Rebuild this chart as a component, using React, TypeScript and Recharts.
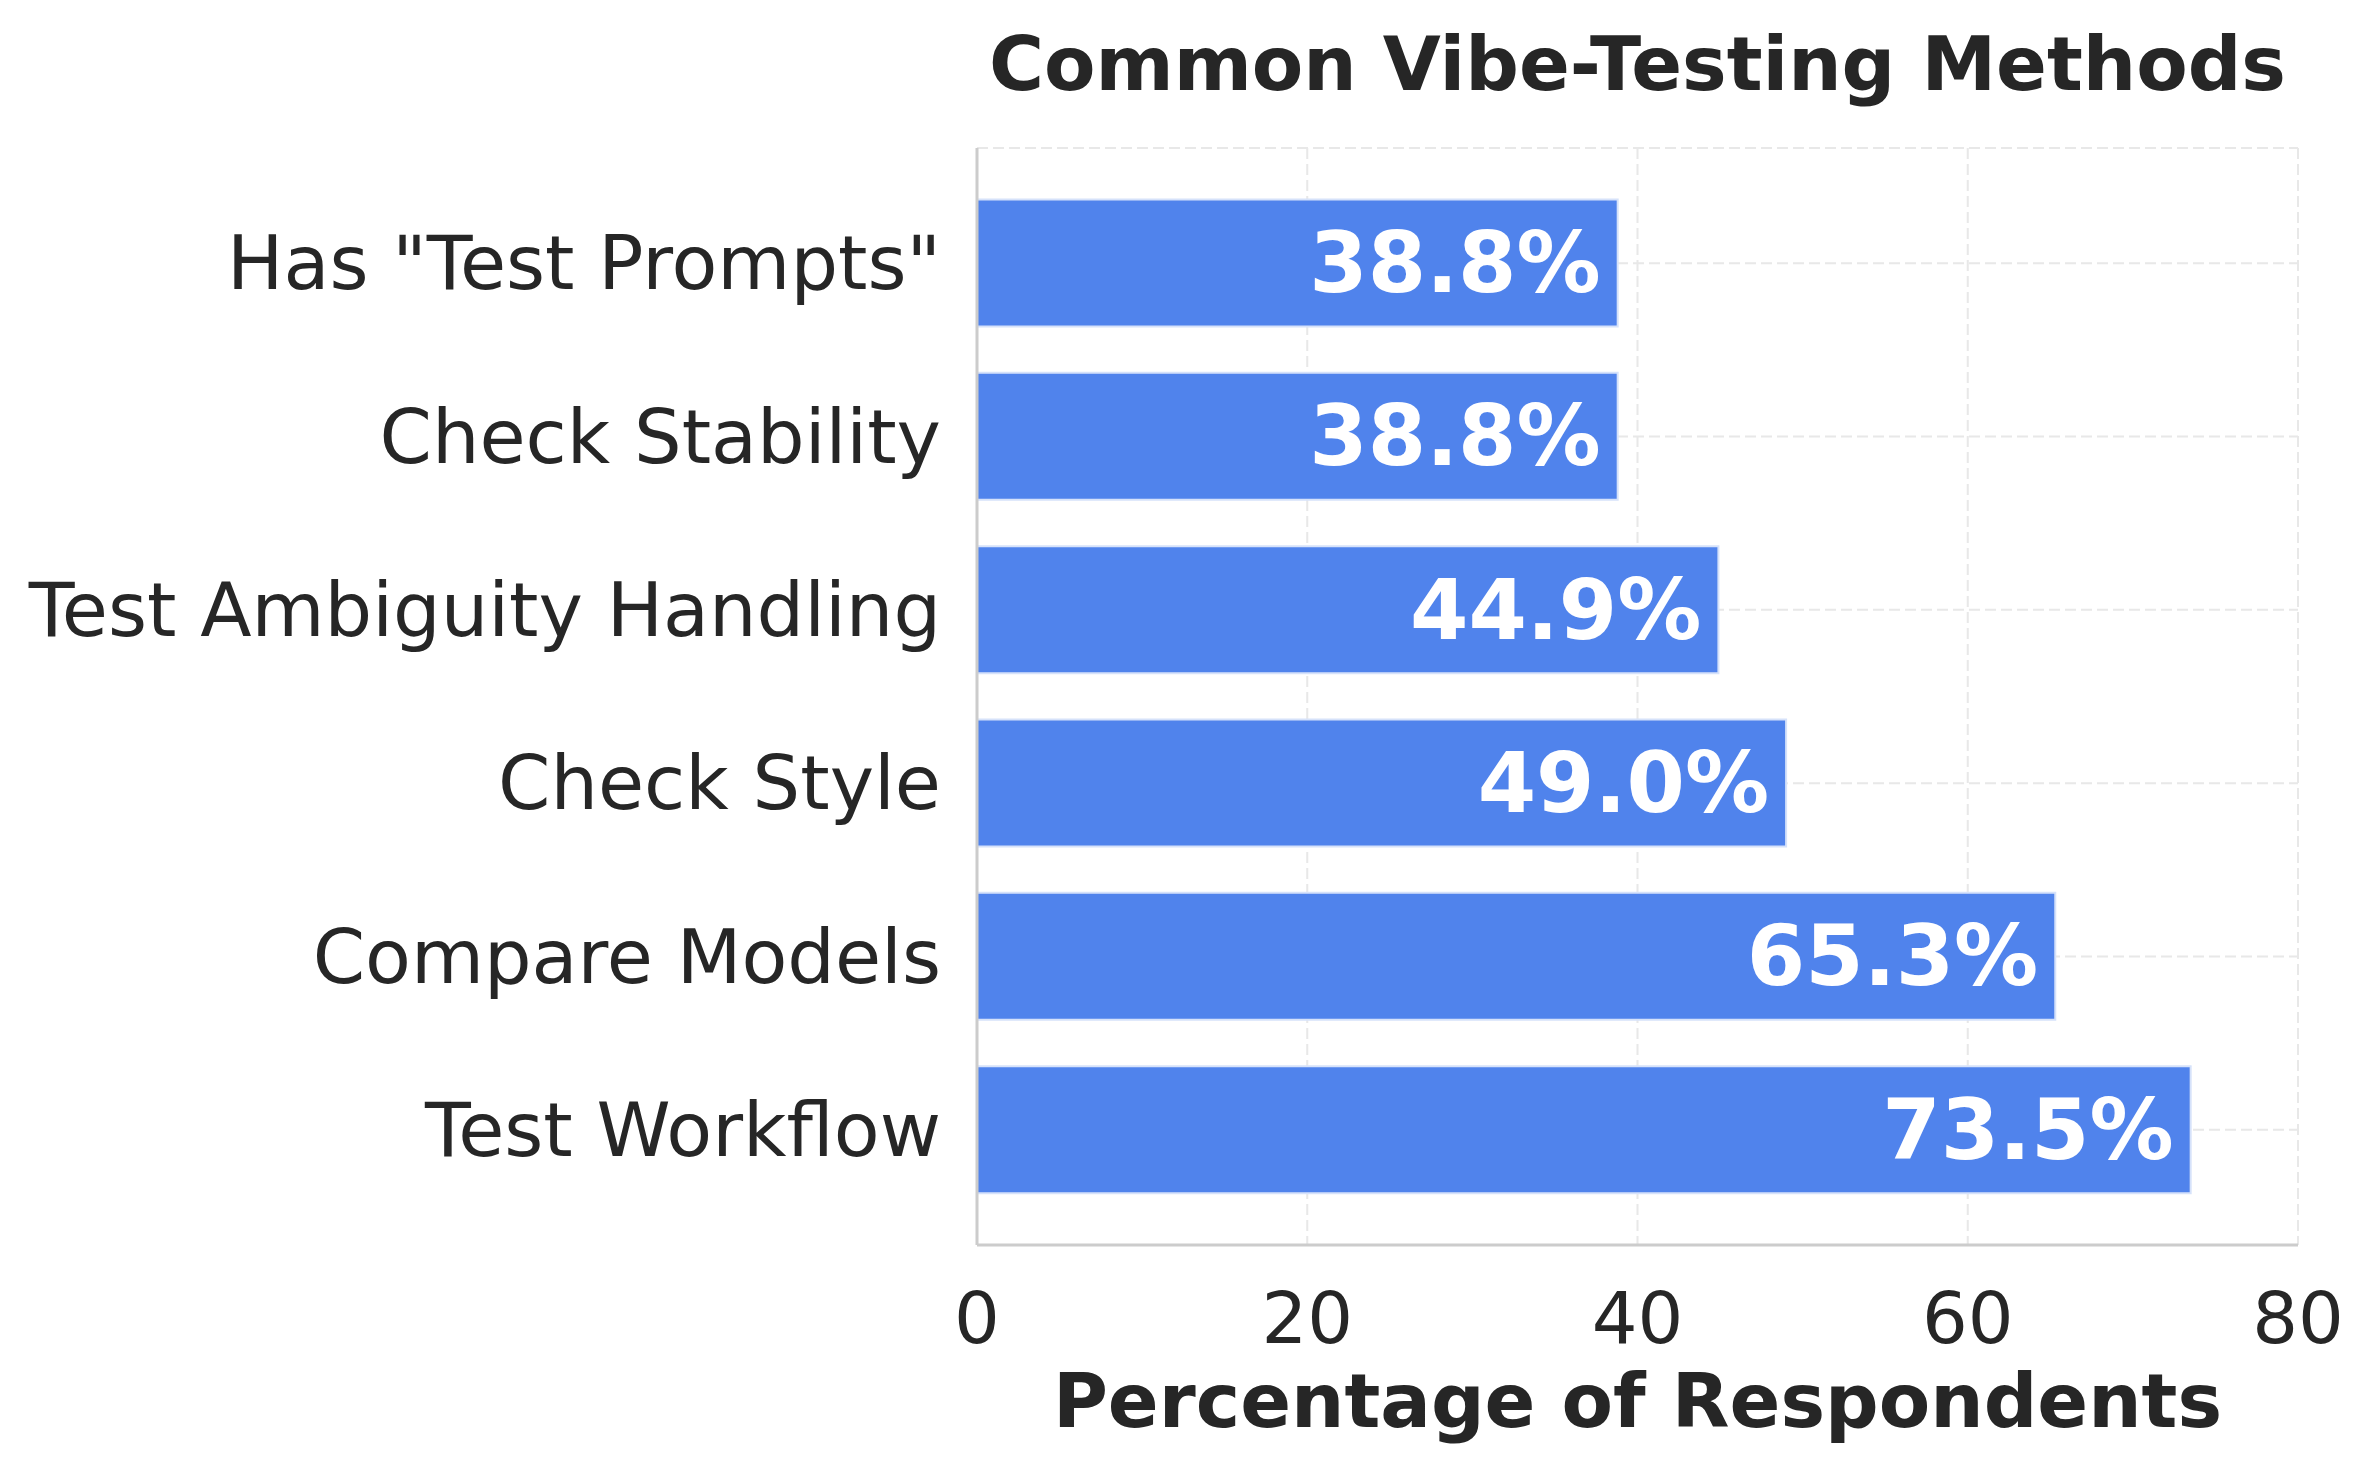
import React from "react";
import { BarChart, Bar, XAxis, YAxis, CartesianGrid, LabelList } from "recharts";

const categories = [
  'Has "Test Prompts"',
  "Check Stability",
  "Test Ambiguity Handling",
  "Check Style",
  "Compare Models",
  "Test Workflow",
];
const percentages = [38.8, 38.8, 44.9, 49.0, 65.3, 73.5];
const xTicks = [0, 20, 40, 60, 80];

const data = categories.map((name, i) => ({ name, value: percentages[i] }));

const FONT = "'DejaVu Sans', sans-serif";
const TEXT = "#262626";
const W = 2375;
const H = 1473;

const YTick = (props: any) => {
  const { x, y, payload } = props;
  return (
    <text x={x - 28} y={y} textAnchor="end" dominantBaseline="central" fontFamily={FONT} fontSize={75} fill={TEXT}>
      {payload.value}
    </text>
  );
};

const XTick = (props: any) => {
  const { x, y, payload } = props;
  return (
    <text x={x} y={y + 65} textAnchor="middle" dominantBaseline="central" fontFamily={FONT} fontSize={72} fill={TEXT}>
      {payload.value}
    </text>
  );
};

const BarLabel = (props: any) => {
  const { x, y, width, height, value } = props;
  return (
    <text
      x={x + width - 17}
      y={y + height / 2}
      textAnchor="end"
      dominantBaseline="central"
      fontFamily={FONT}
      fontWeight="bold"
      fontSize={84}
      fill="#ffffff"
    >
      {Number(value).toFixed(1)}%
    </text>
  );
};

const XLabel = (props: any) => {
  const vb = props.viewBox || {};
  return (
    <text
      x={vb.x + vb.width / 2}
      y={vb.y + 156}
      textAnchor="middle"
      dominantBaseline="central"
      fontFamily={FONT}
      fontWeight="bold"
      fontSize={75}
      fill={TEXT}
    >
      Percentage of Respondents
    </text>
  );
};

export default function App() {
  return (
    <div style={{ position: "absolute", left: 0, top: 0, width: W, height: H, background: "#fff" }}>
      <div
        style={{
          position: "absolute",
          left: 977,
          width: 1321,
          top: 64 - 45,
          height: 90,
          lineHeight: "90px",
          textAlign: "center",
          fontFamily: FONT,
          fontWeight: "bold",
          fontSize: 75,
          color: TEXT,
          whiteSpace: "nowrap",
        }}
      >
        Common Vibe-Testing Methods
      </div>
      <BarChart
        width={W}
        height={H}
        data={data}
        layout="vertical"
        margin={{ top: 148, right: 77, bottom: 0, left: 0 }}
      >
        <CartesianGrid stroke="#e8e8e8" strokeWidth={2} strokeDasharray="11 5" />
        <XAxis
          type="number"
          domain={[0, 80]}
          ticks={xTicks}
          allowDataOverflow
          tickLine={false}
          axisLine={{ stroke: "#cccccc", strokeWidth: 3 }}
          tick={<XTick />}
          height={228}
          label={<XLabel />}
        />
        <YAxis
          type="category"
          dataKey="name"
          width={977}
          tickLine={false}
          axisLine={{ stroke: "#cccccc", strokeWidth: 3 }}
          tick={<YTick />}
          padding={{ top: 28.5, bottom: 28.5 }}
          interval={0}
        />
        <Bar dataKey="value" fill="#5083ec" stroke="#d6e2fa" strokeWidth={2} barSize={127} isAnimationActive={false}>
          <LabelList dataKey="value" content={<BarLabel />} />
        </Bar>
      </BarChart>
    </div>
  );
}
